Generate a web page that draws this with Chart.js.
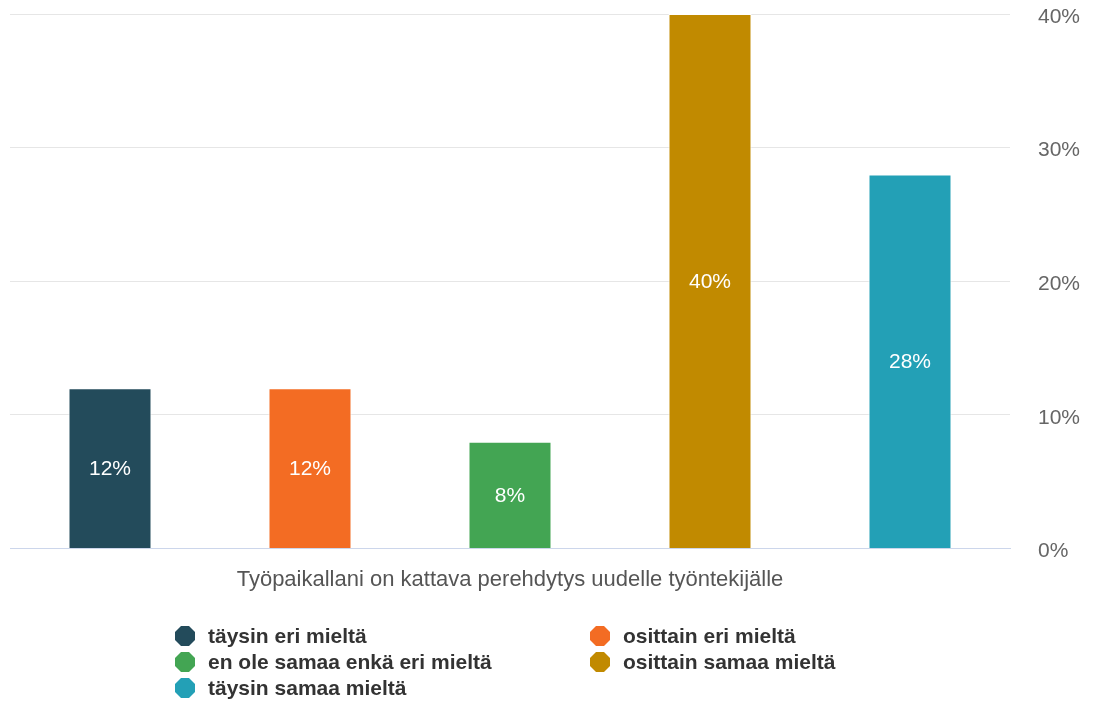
<!DOCTYPE html>
<html>
<head>
<meta charset="utf-8">
<script src="https://cdn.jsdelivr.net/npm/chart.js@4"></script>
<style>
  html, body { margin:0; padding:0; background:#fff; }
  #wrap { position:relative; width:1095px; height:702px; }
  #legend { position:absolute; left:175px; top:623px; width:720px; font-family:"Liberation Sans", Arial, sans-serif; font-weight:bold; font-size:21px; color:#333; }
  .item { position:absolute; height:26px; line-height:26px; white-space:nowrap; }
  .dot { position:absolute; left:0; top:3px; width:20px; height:20px; clip-path:polygon(30% 0,70% 0,100% 30%,100% 70%,70% 100%,30% 100%,0 70%,0 30%); }
  .txt { position:absolute; left:33px; top:0; }
</style>
</head>
<body>
<div id="wrap">
  <canvas id="c" width="1095" height="702"></canvas>
  <div id="legend"></div>
</div>
<script>
const categories = ["Työpaikallani on kattava perehdytys uudelle työntekijälle"];
const seriesNames = ["täysin eri mieltä", "osittain eri mieltä", "en ole samaa enkä eri mieltä", "osittain samaa mieltä", "täysin samaa mieltä"];
const seriesValues = [12, 12, 8, 40, 28];
const seriesColors = ["#234B5B", "#F36C23", "#43A553", "#C18A00", "#23A0B6"];
const yTicks = [0, 10, 20, 30, 40];

const FONT = '"Liberation Sans", Arial, sans-serif';

const labelPlugin = {
  id: 'barLabels',
  afterDatasetsDraw(chart) {
    const ctx = chart.ctx;
    ctx.save();
    ctx.fillStyle = '#fff';
    ctx.font = '21px ' + FONT;
    ctx.textAlign = 'center';
    ctx.textBaseline = 'middle';
    chart.data.datasets.forEach((ds, i) => {
      const meta = chart.getDatasetMeta(i);
      meta.data.forEach((bar, j) => {
        const v = ds.data[j];
        const y = (bar.y + bar.base) / 2;
        ctx.fillText(v + '%', bar.x, y + 1);
      });
    });
    ctx.restore();
  }
};

new Chart(document.getElementById('c'), {
  type: 'bar',
  data: {
    labels: categories,
    datasets: seriesNames.map((n, i) => ({
      label: n,
      data: [seriesValues[i]],
      backgroundColor: seriesColors[i],
      borderColor: '#ffffff',
      borderWidth: 1,
      borderSkipped: 'bottom',
      barPercentage: 0.415,
      categoryPercentage: 1.0
    }))
  },
  options: {
    responsive: false,
    animation: false,
    events: [],
    layout: { padding: { left: 10, right: 0, top: 14, bottom: 105 } },
    plugins: { legend: { display: false }, tooltip: { enabled: false } },
    scales: {
      x: {
        ticks: { display: false },
        grid: { display: false, drawTicks: false },
        border: { display: true, color: '#ccd6eb', width: 1 },
        title: {
          display: true,
          text: categories[0],
          color: '#555',
          font: { family: FONT, size: 22 },
          padding: { top: 18, bottom: 4 }
        }
      },
      y: {
        position: 'right',
        min: yTicks[0],
        max: yTicks[yTicks.length - 1],
        afterBuildTicks(scale) { scale.ticks = yTicks.map(v => ({ value: v })); },
        afterFit(scale) { scale.width = 85; },
        ticks: {
          color: '#666',
          font: { family: FONT, size: 21 },
          padding: 0,
          labelOffset: 3,
          callback: v => v + '%'
        },
        grid: {
          color: ctx => ctx.tick && ctx.tick.value === 0 ? '#ccd6eb' : '#e6e6e6',
          tickColor: 'rgba(0,0,0,0)',
          tickLength: 28,
          drawTicks: true
        },
        border: { display: false }
      }
    }
  },
  plugins: [labelPlugin]
});

const legend = document.getElementById('legend');
seriesNames.forEach((n, i) => {
  const col = i % 2, row = Math.floor(i / 2);
  const it = document.createElement('div');
  it.className = 'item';
  it.style.left = (col * 415) + 'px';
  it.style.top = (row * 26) + 'px';
  it.innerHTML = '<span class="dot" style="background:' + seriesColors[i] + '"></span><span class="txt">' + n + '</span>';
  legend.appendChild(it);
});
</script>
</body>
</html>
